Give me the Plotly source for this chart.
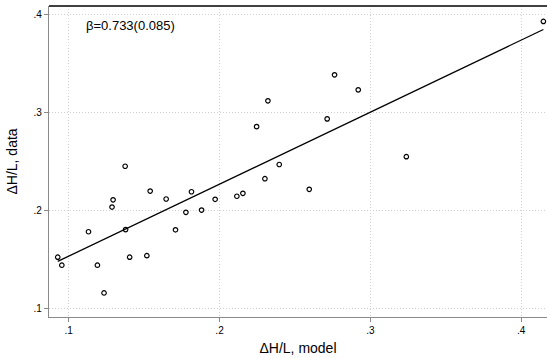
import numpy as np
import plotly.graph_objects as go

# Data
model = [0.0927, 0.0954, 0.1131, 0.1190, 0.1234, 0.1287, 0.1294, 0.1374, 0.1377, 0.1404,
         0.1518, 0.1540, 0.1646, 0.1708, 0.1777, 0.1814, 0.1881, 0.1971, 0.2115, 0.2155,
         0.2246, 0.2301, 0.2321, 0.2396, 0.2595, 0.2714, 0.2763, 0.2920, 0.3239, 0.4148]
data = [0.1528, 0.1446, 0.1787, 0.1446, 0.1163, 0.2039, 0.2113, 0.2455, 0.1809, 0.1528,
        0.1543, 0.2202, 0.2121, 0.1807, 0.1985, 0.2195, 0.2008, 0.2118, 0.2149, 0.2179,
        0.2859, 0.2328, 0.3122, 0.2473, 0.2220, 0.2938, 0.3387, 0.3234, 0.2553, 0.3932]

tick_vals = [0.1, 0.2, 0.3, 0.4]
tick_text = [".1", ".2", ".3", ".4"]
beta_label = "β=0.733(0.085)"

x = np.array(model)
y = np.array(data)
slope, intercept = np.polyfit(x, y, 1)
xf = np.array([x.min(), x.max()])
yf = intercept + slope * xf

font = "Liberation Sans, Arial, Helvetica, sans-serif"

fig = go.Figure()
fig.add_trace(go.Scatter(x=model, y=data, mode="markers",
                         marker=dict(symbol="circle-open", size=4.5, color="black",
                                     line=dict(width=1.2, color="black")),
                         showlegend=False, hoverinfo="x+y", cliponaxis=False))
fig.add_trace(go.Scatter(x=xf, y=yf, mode="lines",
                         line=dict(color="black", width=1.3),
                         showlegend=False, hoverinfo="skip"))

fig.add_annotation(x=0.110, y=0.389, xref="x", yref="y", text=beta_label,
                   showarrow=False, xanchor="left", yanchor="middle",
                   font=dict(size=13, color="black", family=font))

fig.add_shape(type="line", xref="paper", yref="paper", x0=0, x1=1, y0=1, y1=1,
              line=dict(color="black", width=1.5))

axis_common = dict(showgrid=True, gridcolor="#d0d0d0", griddash="1px,2px", gridwidth=1,
                   zeroline=False, showline=True, linecolor="#8a8a8a", linewidth=1.3,
                   ticks="outside", ticklen=4, tickcolor="#8a8a8a", tickwidth=1,
                   tickfont=dict(size=10, color="black", family=font),
                   tickvals=tick_vals, ticktext=tick_text, automargin=False)

fig.update_xaxes(range=[0.0869, 0.4172], title=dict(text="ΔH/L, model", standoff=8,
                 font=dict(size=14, color="black", family=font)), **axis_common)
fig.update_yaxes(range=[0.0918, 0.4089], title=dict(text="ΔH/L, data", standoff=12,
                 font=dict(size=14, color="black", family=font)), **axis_common)

fig.update_layout(width=547, height=358, margin=dict(l=49, r=0, t=6, b=41),
                  plot_bgcolor="white", paper_bgcolor="white",
                  font=dict(family=font, color="black"))

fig.write_html("out.html", config={"displayModeBar": False},
               post_script="document.body.style.margin='0';document.body.style.overflow='hidden';")
